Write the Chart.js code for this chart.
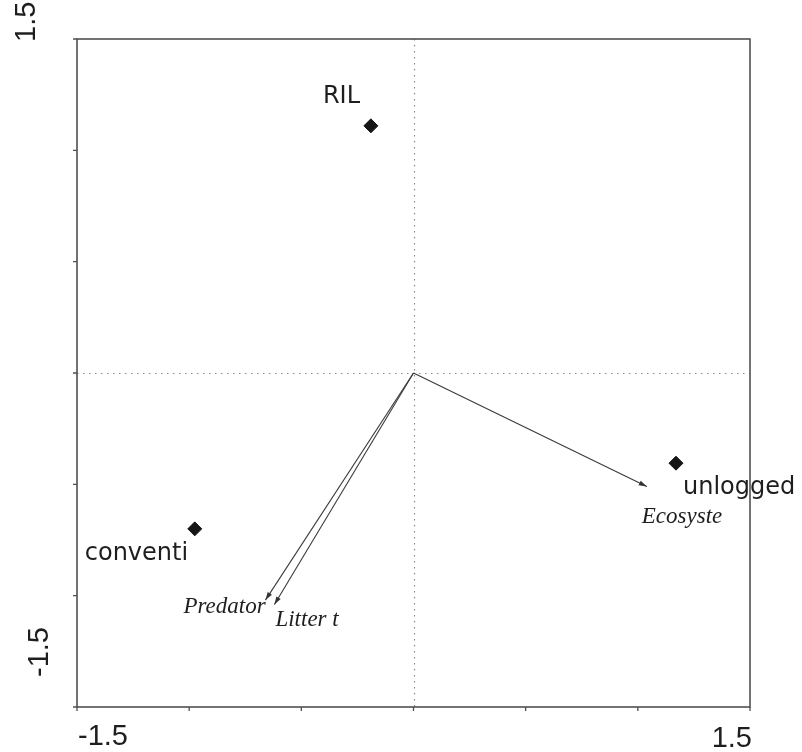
<!DOCTYPE html>
<html>
<head>
<meta charset="utf-8">
<script src="https://cdn.jsdelivr.net/npm/chart.js@4"></script>
<style>
  html, body { margin: 0; padding: 0; background: #fff; }
  canvas { display: block; }
</style>
</head>
<body>
<canvas id="biplot" width="802" height="752"></canvas>
<script>
// axis range and ticks
const axisMin = -1.5;
const axisMax = 1.5;
const tickValues = [-1.5, -1, -0.5, 0, 0.5, 1, 1.5];
const edgeLabels = ['-1.5', '1.5'];

// sample scores (diamonds)
const siteNames = ['RIL', 'unlogged', 'conventi'];
const siteX = [-0.19, 1.17, -0.975];
const siteY = [1.11, -0.405, -0.70];

// variable arrows
const varNames = ['Ecosyste', 'Predator', 'Litter t'];
const varX = [1.04, -0.66, -0.62];
const varY = [-0.51, -1.02, -1.04];

// label placement, px relative to the mark
const labelOffsets = {
    'RIL': [-48, -23],
    'unlogged': [7, 31],
    'conventi': [-110, 31],
    'Ecosyste': [-5, 36],
    'Predator': [-82, 13],
    'Litter t': [1, 21]
};

const biplotDecor = {
    id: 'biplotDecor',
    beforeDatasetsDraw(chart) {
        const { ctx, chartArea: a, scales: { x, y } } = chart;
        const x0 = Math.round(x.getPixelForValue(0)) + 0.5;
        const y0 = Math.round(y.getPixelForValue(0)) + 0.5;
        ctx.save();
        ctx.strokeStyle = '#8a8a8a';
        ctx.lineWidth = 1.2;
        ctx.setLineDash([1.5, 4.5]);
        ctx.beginPath();
        ctx.moveTo(a.left, y0); ctx.lineTo(a.right, y0);
        ctx.moveTo(x0, a.top); ctx.lineTo(x0, a.bottom);
        ctx.stroke();
        ctx.restore();
    },
    afterDatasetsDraw(chart) {
        const { ctx, chartArea: a, scales: { x, y } } = chart;
        ctx.save();

        // frame
        ctx.strokeStyle = '#505050';
        ctx.lineWidth = 1.6;
        ctx.strokeRect(a.left, a.top, a.right - a.left, a.bottom - a.top);

        // ticks
        ctx.lineWidth = 1.3;
        ctx.beginPath();
        for (let v of tickValues) {
            const px = x.getPixelForValue(v);
            ctx.moveTo(px, a.bottom); ctx.lineTo(px, a.bottom + 4);
            const py = y.getPixelForValue(v);
            ctx.moveTo(a.left - 4, py); ctx.lineTo(a.left, py);
        }
        ctx.stroke();

        // edge tick labels
        ctx.fillStyle = '#1e1e1e';
        ctx.font = '29px "Liberation Sans", Arial, sans-serif';
        ctx.textBaseline = 'alphabetic';
        ctx.textAlign = 'left';
        ctx.fillText(edgeLabels[0], x.getPixelForValue(axisMin) + 1, a.bottom + 38);
        ctx.textAlign = 'right';
        ctx.fillText(edgeLabels[1], x.getPixelForValue(axisMax) + 2, a.bottom + 40);

        ctx.textAlign = 'left';
        ctx.save();
        ctx.translate(35, y.getPixelForValue(axisMax) + 3);
        ctx.rotate(-Math.PI / 2);
        ctx.fillText(edgeLabels[1], 0, 0);
        ctx.restore();
        ctx.save();
        ctx.translate(48, y.getPixelForValue(axisMin) - 30);
        ctx.rotate(-Math.PI / 2);
        ctx.fillText(edgeLabels[0], 0, 0);
        ctx.restore();

        // arrowheads + variable labels
        ctx.fillStyle = '#333';
        ctx.strokeStyle = '#333';
        ctx.lineWidth = 1;
        ctx.setLineDash([]);
        for (let i = 0; i < varNames.length; i++) {
            const pts = chart.getDatasetMeta(i + 1).data;
            const p0 = pts[0], p1 = pts[1];
            const ang = Math.atan2(p1.y - p0.y, p1.x - p0.x);
            const len = 8, half = 2.5;
            ctx.beginPath();
            ctx.moveTo(p1.x, p1.y);
            ctx.lineTo(p1.x - len * Math.cos(ang) + half * Math.sin(ang), p1.y - len * Math.sin(ang) - half * Math.cos(ang));
            ctx.lineTo(p1.x - len * Math.cos(ang) - half * Math.sin(ang), p1.y - len * Math.sin(ang) + half * Math.cos(ang));
            ctx.closePath();
            ctx.fill();
        }

        ctx.fillStyle = '#1e1e1e';
        ctx.textAlign = 'left';
        ctx.font = 'italic 23px "Liberation Serif", "Times New Roman", serif';
        for (let i = 0; i < varNames.length; i++) {
            const p1 = chart.getDatasetMeta(i + 1).data[1];
            const off = labelOffsets[varNames[i]];
            ctx.fillText(varNames[i], p1.x + off[0], p1.y + off[1]);
        }

        ctx.font = '24px "DejaVu Sans", sans-serif';
        const sitePts = chart.getDatasetMeta(0).data;
        for (let i = 0; i < siteNames.length; i++) {
            const off = labelOffsets[siteNames[i]];
            ctx.fillText(siteNames[i], sitePts[i].x + off[0], sitePts[i].y + off[1]);
        }
        ctx.restore();
    }
};

const datasets = [{
    label: 'sites',
    data: siteNames.map((n, i) => ({ x: siteX[i], y: siteY[i] })),
    pointStyle: 'rectRot',
    pointRadius: 7,
    backgroundColor: '#151515',
    borderColor: '#151515',
    borderWidth: 1
}];
for (let i = 0; i < varNames.length; i++) {
    datasets.push({
        type: 'line',
        label: varNames[i],
        data: [{ x: 0, y: 0 }, { x: varX[i], y: varY[i] }],
        showLine: true,
        borderColor: '#3a3a3a',
        borderWidth: 1.1,
        pointRadius: 0,
        fill: false
    });
}

new Chart(document.getElementById('biplot'), {
    type: 'scatter',
    data: { datasets: datasets },
    options: {
        responsive: false,
        animation: false,
        events: [],
        layout: { padding: { left: 77, right: 52, top: 39, bottom: 45 } },
        scales: {
            x: { type: 'linear', min: axisMin, max: axisMax, display: false },
            y: { type: 'linear', min: axisMin, max: axisMax, display: false }
        },
        plugins: { legend: { display: false }, tooltip: { enabled: false } }
    },
    plugins: [biplotDecor]
});
</script>
</body>
</html>
